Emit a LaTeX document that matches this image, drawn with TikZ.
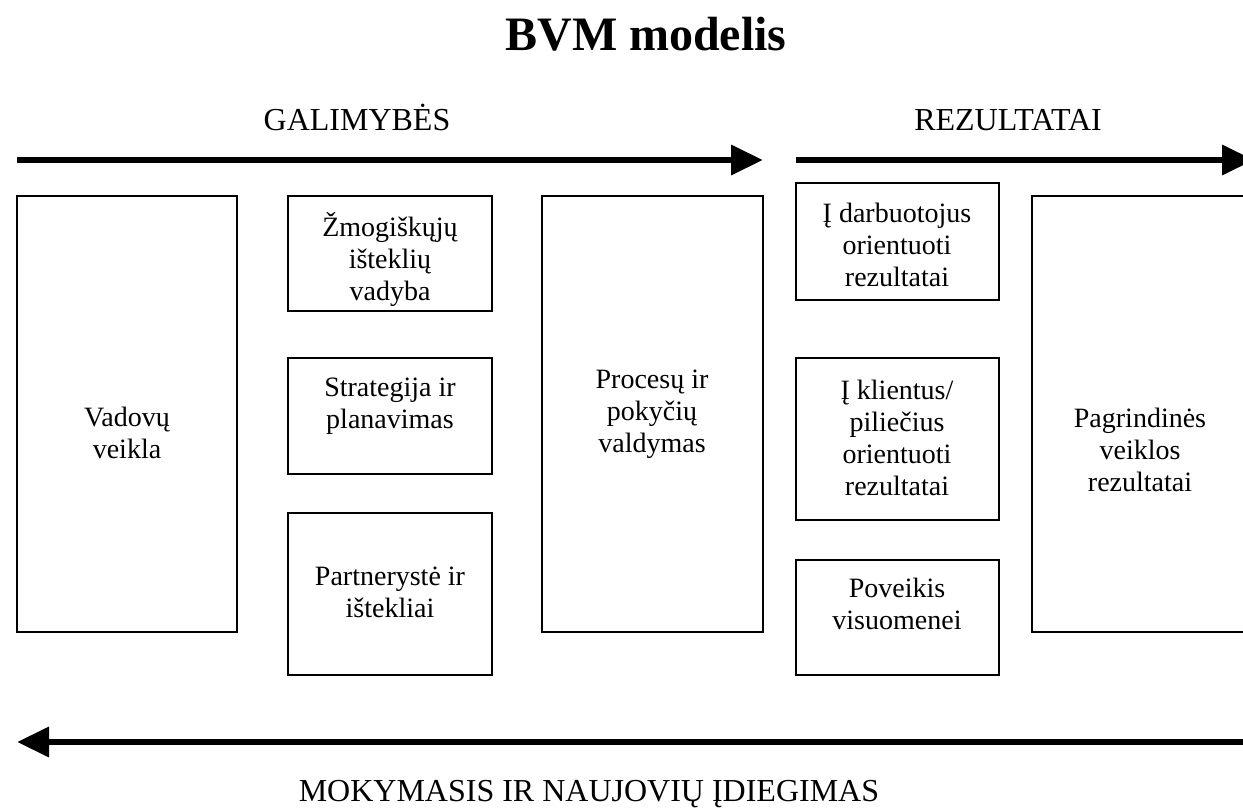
\documentclass[tikz,border=0pt]{standalone}
\usepackage{fontspec}
\setmainfont{Liberation Serif}
\usepackage{tikz}
\usetikzlibrary{arrows.meta}

\begin{document}
\begin{tikzpicture}[x=1pt,y=-1pt,
  boite/.style={draw,line width=1.4pt,inner sep=0pt},
  texte/.style={align=center,font=\fontsize{28}{32}\selectfont},
  titre/.style={anchor=base,font=\fontsize{32}{38}\selectfont},
  fleche/.style={line width=6.5pt,-{Triangle[length=32pt,width=29pt]}}]
\clip (0,0) rectangle (1243,809);
\fill[white] (0,0) rectangle (1243,809);
\node[anchor=base,font=\fontsize{48}{58}\selectfont\bfseries] (bvm) at (646,50) {BVM modelis};
\node[titre] (gal) at (357,130) {GALIMYBĖS};
\node[titre] (rez) at (1008,130) {REZULTATAI};
\node[titre] (mok) at (589,801) {MOKYMASIS IR NAUJOVIŲ ĮDIEGIMAS};
\coordinate (g1) at (17,160);
\coordinate (g2) at (763,160);
\coordinate (r1) at (796,160);
\coordinate (r2) at (1254,160);
\coordinate (m1) at (1270,742);
\coordinate (m2) at (17,742);
\draw[fleche] (g1) -- (g2);
\draw[fleche] (r1) -- (r2);
\draw[fleche] (m1) -- (m2);
\node[boite,minimum width=220pt,minimum height=436pt] (vad) at (127,414) {};
\node[boite,minimum width=204pt,minimum height=115pt] (zmo) at (390,253.5) {};
\node[boite,minimum width=204pt,minimum height=116pt] (str) at (390,416) {};
\node[boite,minimum width=204pt,minimum height=162pt] (par) at (390,594) {};
\node[boite,minimum width=221pt,minimum height=436pt] (pro) at (652.5,414) {};
\node[boite,minimum width=203pt,minimum height=117pt] (dar) at (897.5,241.5) {};
\node[boite,minimum width=203pt,minimum height=162pt] (kli) at (897.5,439) {};
\node[boite,minimum width=203pt,minimum height=115pt] (pov) at (897.5,617.5) {};
\node[boite,minimum width=238pt,minimum height=436pt] (pag) at (1151,414) {};
\node[texte] (vadt) at (127,433) {Vadovų\\veikla};
\node[texte] (zmot) at (390,259) {Žmogiškųjų\\išteklių\\vadyba};
\node[texte] (strt) at (390,406) {Strategija ir\\planavimas};
\node[texte] (part) at (390,592) {Partnerystė ir\\ištekliai};
\node[texte] (prot) at (652,414) {Procesų ir\\pokyčių\\valdymas};
\node[texte] (dart) at (897,245) {Į darbuotojus\\orientuoti\\rezultatai};
\node[texte] (klit) at (897,438) {Į klientus/\\piliečius\\orientuoti\\rezultatai};
\node[texte] (povt) at (897,604) {Poveikis\\visuomenei};
\node[texte] (pagt) at (1140,450) {Pagrindinės\\veiklos\\rezultatai};
\end{tikzpicture}
\end{document}
